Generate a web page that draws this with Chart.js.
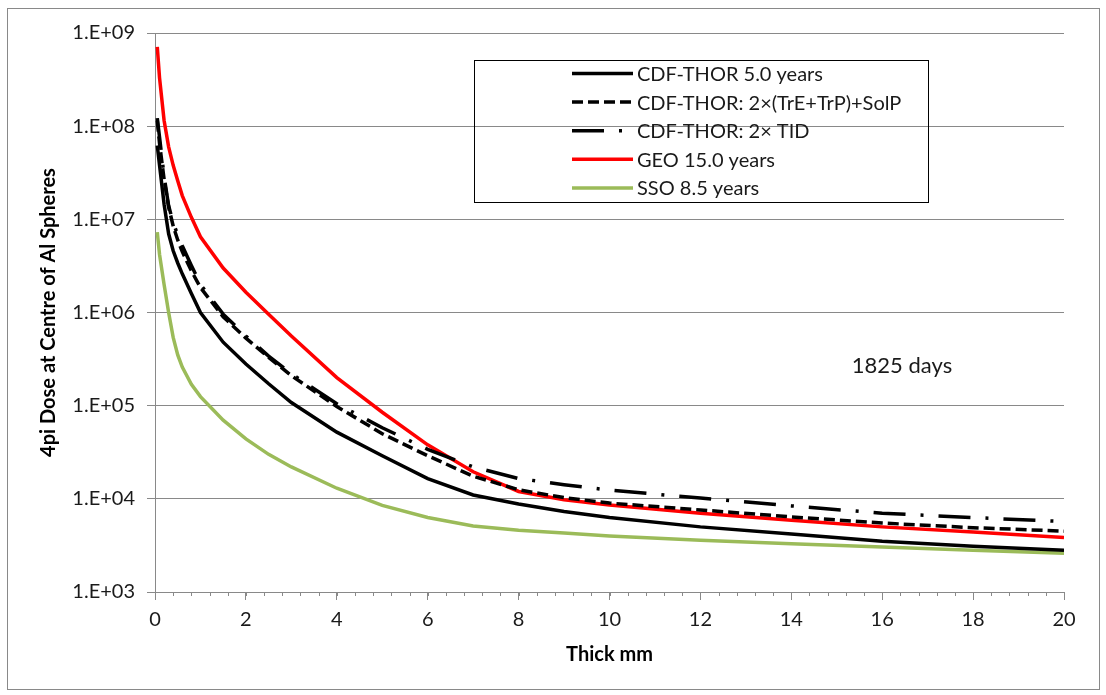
<!DOCTYPE html>
<html>
<head>
<meta charset="utf-8">
<title>4pi Dose at Centre of Al Spheres</title>
<script src="https://cdn.jsdelivr.net/npm/chart.js@4.4.0/dist/chart.umd.min.js"></script>
<style>
  body { margin: 0; background: #fff; }
  canvas { display: block; }
</style>
</head>
<body>
<canvas id="grafico" width="1106" height="695"></canvas>
<script>
// Espesor de Al (mm)
const grosor = [0.05, 0.1, 0.2, 0.3, 0.4, 0.5, 0.6, 0.8, 1, 1.5, 2, 2.5, 3, 4, 5, 6, 7, 8, 9, 10, 12, 14, 16, 18, 20];

// Dosis por serie
const cdfThor5 = [6.2e7, 3.8e7, 1.45e7, 7.0e6, 4.6e6, 3.4e6, 2.6e6, 1.6e6, 1.0e6, 4.8e5, 2.8e5, 1.72e5, 1.08e5, 5.2e4, 2.9e4, 1.65e4, 1.1e4, 8.8e3, 7.3e3, 6.3e3, 5.0e3, 4.2e3, 3.5e3, 3.1e3, 2.8e3];
const cdfThorTrE = [1.15e8, 6.5e7, 2.7e7, 1.35e7, 8.5e6, 6.0e6, 4.5e6, 2.8e6, 1.85e6, 9.0e5, 5.3e5, 3.3e5, 2.1e5, 9.8e4, 5.0e4, 2.9e4, 1.75e4, 1.25e4, 1.03e4, 9.0e3, 7.6e3, 6.4e3, 5.5e3, 4.9e3, 4.5e3];
const cdfThorTid = [1.22e8, 7.6e7, 2.9e7, 1.4e7, 9.2e6, 6.8e6, 5.2e6, 3.2e6, 2.0e6, 9.6e5, 5.6e5, 3.4e5, 2.2e5, 1.05e5, 5.8e4, 3.4e4, 2.2e4, 1.65e4, 1.42e4, 1.24e4, 1.02e4, 8.4e3, 7.0e3, 6.3e3, 5.7e3];
const geo15 = [7.1e8, 3.3e8, 1.15e8, 6.0e7, 3.8e7, 2.6e7, 1.8e7, 1.05e7, 6.5e6, 3.0e6, 1.65e6, 9.6e5, 5.6e5, 2.0e5, 8.5e4, 3.8e4, 1.95e4, 1.2e4, 9.8e3, 8.6e3, 7.0e3, 5.9e3, 5.0e3, 4.4e3, 3.85e3];
const sso85 = [7.3e6, 4.2e6, 2.0e6, 1.0e6, 5.4e5, 3.5e5, 2.6e5, 1.7e5, 1.25e5, 7.0e4, 4.4e4, 3.0e4, 2.2e4, 1.3e4, 8.5e3, 6.3e3, 5.1e3, 4.6e3, 4.3e3, 4.0e3, 3.6e3, 3.3e3, 3.05e3, 2.8e3, 2.6e3];

const etiquetas = ["CDF-THOR 5.0 years", "CDF-THOR: 2\u00d7(TrE+TrP)+SolP", "CDF-THOR: 2\u00d7 TID", "GEO 15.0 years", "SSO 8.5 years"];
const ticksY = [1e3, 1e4, 1e5, 1e6, 1e7, 1e8, 1e9];
const ticksX = [0, 2, 4, 6, 8, 10, 12, 14, 16, 18, 20];

const FUENTE = "Lato, 'Open Sans', sans-serif";
const GRIS = "#898989";

function puntos(valores) {
  return grosor.map(function (x, i) { return { x: x, y: valores[i] }; });
}

function serie(label, valores, color, dash) {
  return {
    label: label,
    data: puntos(valores),
    borderColor: color,
    backgroundColor: color,
    borderWidth: 3.5,
    borderDash: dash,
    borderCapStyle: 'butt',
    pointRadius: 0,
    tension: 0,
    fill: false
  };
}

// Marco exterior
const marco = {
  id: 'marco',
  beforeDraw: function (chart) {
    const c = chart.ctx;
    c.save();
    c.fillStyle = '#fff';
    c.fillRect(0, 0, chart.width, chart.height);
    c.strokeStyle = GRIS;
    c.lineWidth = 1;
    c.strokeRect(7.5, 8.5, 1092, 681);
    c.restore();
  }
};

// Ticks menores del eje X, titulos, leyenda y nota
const extras = {
  id: 'extras',
  afterDraw: function (chart) {
    const c = chart.ctx;
    const sx = chart.scales.x;
    const area = chart.chartArea;
    c.save();

    // ticks menores cada 0.4
    c.strokeStyle = GRIS;
    c.lineWidth = 1;
    for (let k = 0; k <= 50; k++) {
      const px = Math.round(sx.getPixelForValue(k * 0.4)) + 0.5;
      c.beginPath();
      c.moveTo(px, area.bottom);
      c.lineTo(px, area.bottom + 4);
      c.stroke();
    }

    // titulos de ejes
    c.fillStyle = '#000';
    c.font = "bold 20px " + FUENTE;
    c.textAlign = 'center';
    c.textBaseline = 'middle';
    c.fillText("Thick mm", (area.left + area.right) / 2, 655);
    c.save();
    c.translate(49, (area.top + area.bottom) / 2);
    c.rotate(-Math.PI / 2);
    c.fillText("4pi Dose at Centre of Al Spheres", 0, 0);
    c.restore();

    // nota
    c.font = "22px " + FUENTE;
    c.fillStyle = '#1a1a1a';
    c.fillText("1825 days", 902, 366);

    // leyenda
    c.strokeStyle = '#000';
    c.lineWidth = 1;
    c.strokeRect(474.5, 60.5, 454, 142);
    c.font = "20px " + FUENTE;
    c.textAlign = 'left';
    chart.data.datasets.forEach(function (ds, i) {
      const y = 73.5 + i * 28.6;
      c.strokeStyle = ds.borderColor;
      c.lineWidth = ds.borderWidth;
      c.setLineDash(ds.borderDash || []);
      c.beginPath();
      c.moveTo(572, y);
      c.lineTo(633, y);
      c.stroke();
      c.setLineDash([]);
      c.fillStyle = '#1a1a1a';
      c.fillText(ds.label, 637, y + 1);
    });

    c.restore();
  }
};

var ctx = document.getElementById("grafico").getContext("2d");

var grafico = new Chart(ctx, {
  type: 'line',
  data: {
    datasets: [
      serie(etiquetas[0], cdfThor5, '#000000', []),
      serie(etiquetas[1], cdfThorTrE, '#000000', [11, 5]),
      serie(etiquetas[2], cdfThorTid, '#000000', [32, 15, 3, 15]),
      serie(etiquetas[3], geo15, '#ff0000', []),
      serie(etiquetas[4], sso85, '#9bbb59', [])
    ]
  },
  options: {
    responsive: false,
    animation: false,
    layout: { padding: { top: 33, right: 42, left: 0, bottom: 0 } },
    plugins: {
      legend: { display: false },
      tooltip: { enabled: false }
    },
    scales: {
      x: {
        type: 'linear',
        min: 0,
        max: 20,
        afterFit: function (scale) { scale.height = 103; },
        afterBuildTicks: function (scale) {
          scale.ticks = ticksX.map(function (v) { return { value: v }; });
        },
        border: { color: GRIS, width: 1 },
        grid: { drawOnChartArea: false, color: GRIS, tickLength: 8, tickColor: GRIS },
        ticks: {
          color: '#1a1a1a',
          font: { family: FUENTE, size: 20 },
          padding: 8,
          maxRotation: 0,
          callback: function (v) { return String(v); }
        }
      },
      y: {
        type: 'logarithmic',
        min: ticksY[0],
        max: ticksY[ticksY.length - 1],
        afterFit: function (scale) { scale.width = 155; },
        afterBuildTicks: function (scale) {
          scale.ticks = ticksY.map(function (v) { return { value: v }; });
        },
        border: { color: GRIS, width: 1 },
        grid: { color: GRIS, lineWidth: 1, tickLength: 8, tickColor: GRIS },
        ticks: {
          color: '#1a1a1a',
          font: { family: FUENTE, size: 20 },
          padding: 12,
          callback: function (v) {
            const e = Math.round(Math.log10(v));
            return "1.E+" + (e < 10 ? "0" + e : e);
          }
        }
      }
    }
  },
  plugins: [marco, extras]
});
</script>
</body>
</html>
